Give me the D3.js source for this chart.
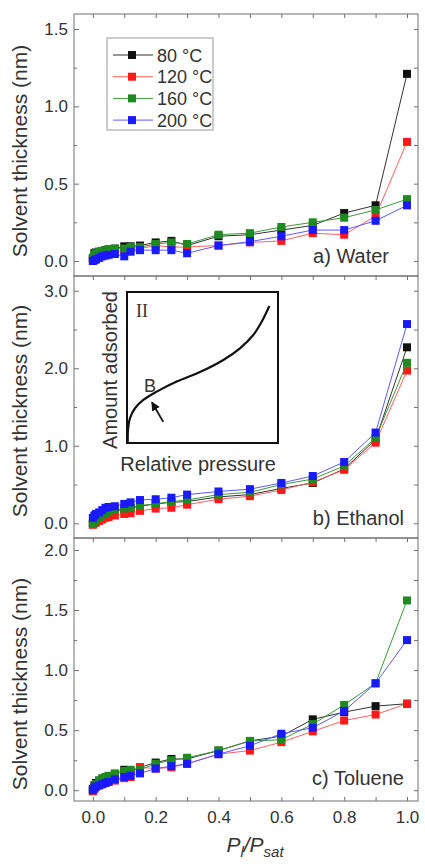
<!DOCTYPE html>
<html>
<body style="margin:0;background:#fff">
    <svg id="chart"></svg>
</body>
</html>

<style>
    text { font-family: Arial, "Liberation Sans", sans-serif; fill: #333; }
    .frame { fill: none; stroke: #707070; stroke-width: 1; }
    .tick line { stroke: #707070; }
</style>

<script src="https://cdn.jsdelivr.net/npm/d3@7"></script>
<script type="module">
    "use strict"
    const width = 425;
    const height = 864;

    // relative pressure P/Psat
    const pressure = [0, 0.005, 0.01, 0.02, 0.03, 0.04, 0.05, 0.07, 0.1, 0.12, 0.15, 0.2, 0.25, 0.3, 0.4, 0.5, 0.6, 0.7, 0.8, 0.9, 1.0];
    const temps = ["80 °C", "120 °C", "160 °C", "200 °C"];

    // a) Water
    const water80 = [0.02, 0.05, 0.055, 0.06, 0.065, 0.07, 0.075, 0.08, 0.095, 0.095, 0.10, 0.12, 0.13, 0.10, 0.16, 0.17, 0.20, 0.23, 0.31, 0.36, 1.21];
    const water120 = [0.01, 0.02, 0.03, 0.04, 0.045, 0.05, 0.05, 0.06, 0.07, 0.07, 0.08, 0.10, 0.09, 0.09, 0.10, 0.12, 0.13, 0.18, 0.17, 0.29, 0.77];
    const water160 = [0.02, 0.04, 0.05, 0.06, 0.065, 0.07, 0.075, 0.08, 0.08, 0.09, 0.09, 0.11, 0.12, 0.11, 0.17, 0.18, 0.22, 0.25, 0.28, 0.33, 0.40];
    const water200 = [0.0, 0.005, 0.01, 0.02, 0.03, 0.035, 0.04, 0.045, 0.03, 0.06, 0.07, 0.07, 0.07, 0.05, 0.10, 0.125, 0.16, 0.20, 0.20, 0.26, 0.36];

    // b) Ethanol
    const ethanol80 = [0.0, 0.03, 0.05, 0.07, 0.10, 0.12, 0.14, 0.16, 0.18, 0.20, 0.22, 0.25, 0.27, 0.28, 0.34, 0.37, 0.45, 0.52, 0.70, 1.08, 2.27];
    const ethanol120 = [-0.02, 0.0, 0.01, 0.03, 0.05, 0.07, 0.08, 0.10, 0.12, 0.13, 0.16, 0.19, 0.20, 0.24, 0.31, 0.35, 0.43, 0.53, 0.69, 1.04, 1.97];
    const ethanol160 = [0.0, 0.03, 0.05, 0.08, 0.11, 0.13, 0.15, 0.17, 0.19, 0.20, 0.23, 0.25, 0.28, 0.30, 0.37, 0.40, 0.50, 0.57, 0.74, 1.10, 2.07];
    const ethanol200 = [0.07, 0.10, 0.12, 0.14, 0.17, 0.20, 0.21, 0.22, 0.25, 0.27, 0.30, 0.31, 0.33, 0.37, 0.41, 0.44, 0.52, 0.61, 0.79, 1.17, 2.57];

    // c) Toluene
    const toluene80 = [0.01, 0.04, 0.06, 0.08, 0.09, 0.10, 0.11, 0.13, 0.17, 0.16, 0.19, 0.23, 0.26, 0.26, 0.33, 0.41, 0.45, 0.59, 0.65, 0.70, 0.72];
    const toluene120 = [-0.01, 0.01, 0.03, 0.04, 0.05, 0.06, 0.07, 0.08, 0.10, 0.11, 0.19, 0.18, 0.19, 0.22, 0.30, 0.33, 0.40, 0.49, 0.58, 0.63, 0.72];
    const toluene160 = [0.0, 0.03, 0.05, 0.08, 0.10, 0.11, 0.12, 0.14, 0.16, 0.17, 0.17, 0.22, 0.25, 0.27, 0.33, 0.41, 0.42, 0.55, 0.71, 0.89, 1.58];
    const toluene200 = [0.0, 0.02, 0.03, 0.04, 0.05, 0.06, 0.07, 0.09, 0.11, 0.12, 0.14, 0.18, 0.20, 0.22, 0.30, 0.37, 0.47, 0.52, 0.66, 0.89, 1.25];

    // inset: type II isotherm sketch (normalised units)
    const insetX = [0.005, 0.007, 0.02, 0.053, 0.108, 0.197, 0.329, 0.483, 0.638, 0.748, 0.836, 0.892, 0.925, 0.943];
    const insetY = [0.0, 0.09, 0.165, 0.23, 0.285, 0.34, 0.407, 0.47, 0.55, 0.627, 0.715, 0.803, 0.869, 0.907];

    const markerColors = ["#111111", "#ff1a1a", "#1f8a1f", "#1a1aff"];
    const lineColors = ["#333333", "#ff6060", "#3a9a3a", "#5a5aff"];

    const plotLeft = 74;
    const plotRight = 418;

    const panels = [
        { label: "a) Water", top: 14, bottom: 276, domain: [-0.097, 1.597], major: 0.5, minor: 0.25, max: 1.5, series: [water80, water120, water160, water200], titleY: 151 },
        { label: "b) Ethanol", top: 276, bottom: 538, domain: [-0.19, 3.19], major: 1.0, minor: 0.5, max: 3.0, series: [ethanol80, ethanol120, ethanol160, ethanol200], titleY: 411 },
        { label: "c) Toluene", top: 538, bottom: 801, domain: [-0.09, 2.1], major: 0.5, minor: 0.25, max: 2.0, series: [toluene80, toluene120, toluene160, toluene200], titleY: 684 }
    ];

    const svg = d3.select("#chart")
        .attr("width", width)
        .attr("height", height);

    const x = d3.scaleLinear().domain([-0.06, 1.035]).range([plotLeft, plotRight]);
    const xTicks = d3.range(0, 1.0001, 0.1).map(v => +v.toFixed(1));

    panels.forEach((p, i) => {
        const y = d3.scaleLinear().domain(p.domain).range([p.bottom, p.top]);
        const g = svg.append("g");
        const majors = d3.range(0, p.max + 1e-9, p.major);
        const minors = d3.range(0, p.max + 1e-9, p.minor).filter(v => !majors.some(m => Math.abs(m - v) < 1e-9));

        // left axis
        g.append("g").attr("transform", `translate(${plotLeft},0)`)
            .call(d3.axisLeft(y).tickValues(majors).tickSize(-5).tickPadding(6).tickFormat(d3.format(".1f")))
            .call(a => a.select(".domain").remove())
            .selectAll("text").style("font-size", "17px").attr("fill", "#333");
        g.append("g").attr("transform", `translate(${plotLeft},0)`)
            .call(d3.axisLeft(y).tickValues(minors).tickSize(-3).tickFormat(""))
            .call(a => a.select(".domain").remove());

        // right axis
        g.append("g").attr("transform", `translate(${plotRight},0)`)
            .call(d3.axisRight(y).tickValues(majors.concat(minors)).tickSize(-4).tickFormat(""))
            .call(a => a.select(".domain").remove());

        // top axis
        g.append("g").attr("transform", `translate(0,${p.top})`)
            .call(d3.axisTop(x).tickValues(xTicks).tickSize(-4).tickFormat(""))
            .call(a => a.select(".domain").remove());

        if (i === panels.length - 1) {
            g.append("g").attr("transform", `translate(0,${p.bottom})`)
                .call(d3.axisBottom(x).tickValues(xTicks).tickSize(-4).tickPadding(10)
                    .tickFormat(d => (Math.round(d * 10) % 2 === 0) ? d3.format(".1f")(d) : ""))
                .call(a => a.select(".domain").remove())
                .selectAll("text").style("font-size", "17px").attr("fill", "#333");
        }

        g.append("rect").attr("class", "frame")
            .attr("x", plotLeft).attr("y", p.top)
            .attr("width", plotRight - plotLeft).attr("height", p.bottom - p.top);

        // y title
        g.append("text")
            .attr("transform", `translate(27,${p.titleY}) rotate(-90)`)
            .attr("text-anchor", "middle")
            .style("font-size", "21px")
            .text("Solvent thickness (nm)");

        // panel label
        g.append("text")
            .attr("x", i === 0 ? 389 : 404)
            .attr("y", p.bottom - (i === 2 ? 16 : 13))
            .attr("text-anchor", "end")
            .style("font-size", "20px")
            .text(p.label);

        const line = d3.line().x((d, k) => x(pressure[k])).y(d => y(d));

        p.series.forEach((vals, s) => {
            g.append("path")
                .attr("d", line(vals))
                .attr("fill", "none")
                .attr("stroke", lineColors[s])
                .attr("stroke-width", 1);
            g.selectAll(null).data(vals).enter().append("rect")
                .attr("x", (d, k) => x(pressure[k]) - 4)
                .attr("y", d => y(d) - 4)
                .attr("width", 8).attr("height", 8)
                .attr("fill", markerColors[s]);
        });
    });

    // legend
    const legend = svg.append("g");
    legend.append("rect").attr("x", 107).attr("y", 38).attr("width", 106).attr("height", 92)
        .attr("fill", "#fff").attr("stroke", "#999").attr("stroke-width", 1);
    temps.forEach((t, s) => {
        const ly = 55 + s * 21.7;
        legend.append("line").attr("x1", 113).attr("x2", 153).attr("y1", ly).attr("y2", ly)
            .attr("stroke", lineColors[s]).attr("stroke-width", 1);
        legend.append("rect").attr("x", 128).attr("y", ly - 4).attr("width", 8).attr("height", 8)
            .attr("fill", markerColors[s]);
        legend.append("text").attr("x", 157).attr("y", ly + 6.5).style("font-size", "18px").text(t);
    });

    // inset
    const inset = svg.append("g");
    const ix = d3.scaleLinear().domain([0, 1]).range([127, 278]);
    const iy = d3.scaleLinear().domain([0, 1]).range([443, 292]);
    inset.append("rect").attr("x", 127).attr("y", 292).attr("width", 151).attr("height", 151)
        .attr("fill", "none").attr("stroke", "#111").attr("stroke-width", 2);
    inset.append("path")
        .attr("d", d3.line().curve(d3.curveCatmullRom).x((d, k) => ix(d)).y((d, k) => iy(insetY[k]))(insetX))
        .attr("fill", "none").attr("stroke", "#111").attr("stroke-width", 2.2);
    inset.append("text").attr("x", 136).attr("y", 317)
        .style("font-family", "'Liberation Serif', 'DejaVu Serif', serif").style("font-size", "18px").text("II");
    inset.append("text").attr("x", 150).attr("y", 392).attr("text-anchor", "middle")
        .style("font-size", "18px").text("B");
    inset.append("text").attr("transform", "translate(117,370) rotate(-90)").attr("text-anchor", "middle")
        .style("font-size", "20px").text("Amount adsorbed");
    inset.append("text").attr("x", 198).attr("y", 471).attr("text-anchor", "middle")
        .style("font-size", "20px").text("Relative pressure");

    svg.append("defs").append("marker")
        .attr("id", "arrow").attr("viewBox", "0 0 10 10").attr("refX", 9).attr("refY", 5)
        .attr("markerWidth", 5).attr("markerHeight", 5).attr("orient", "auto")
        .append("path").attr("d", "M0,0L10,5L0,10z").attr("fill", "#111");
    inset.append("line").attr("x1", ix(0.24)).attr("y1", iy(0.14)).attr("x2", ix(0.165)).attr("y2", iy(0.27))
        .attr("stroke", "#111").attr("stroke-width", 1.8).attr("marker-end", "url(#arrow)");

    // x title
    const xt = svg.append("text").attr("x", 255).attr("y", 852).attr("text-anchor", "middle")
        .style("font-size", "21px").style("font-style", "italic");
    xt.append("tspan").text("P");
    xt.append("tspan").attr("dy", 5).style("font-size", "15px").text("l");
    xt.append("tspan").attr("dy", -5).text("/P");
    xt.append("tspan").attr("dy", 5).style("font-size", "15px").text("sat");
</script>
